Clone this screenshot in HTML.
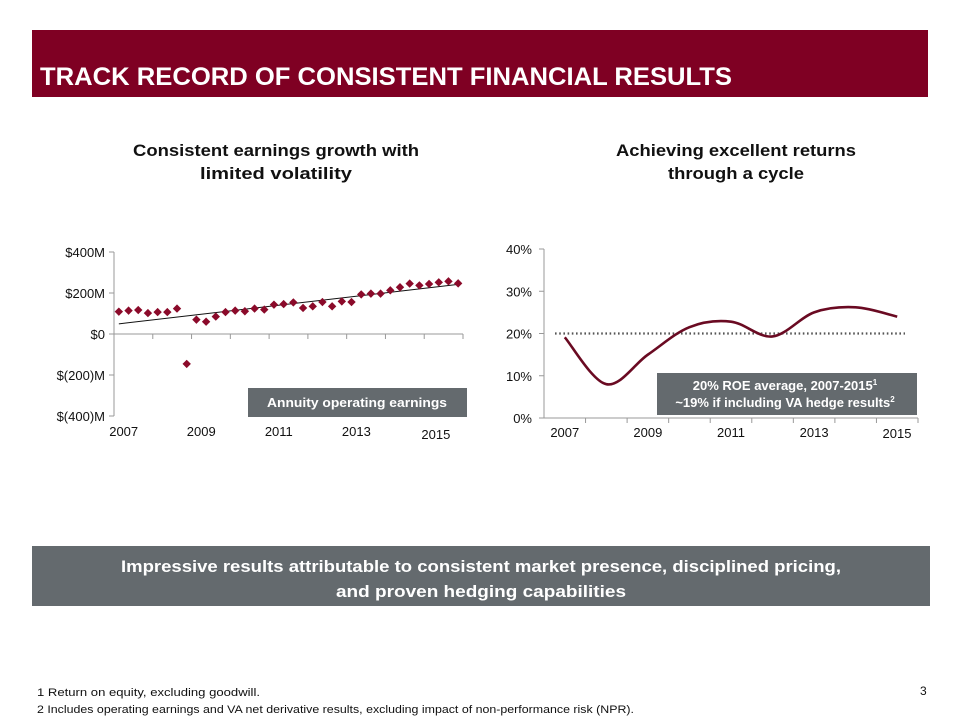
<!DOCTYPE html>
<html><head><meta charset="utf-8"><style>
body{margin:0;background:#fff;}
svg{display:block;font-family:"Liberation Sans",sans-serif;}
</style></head><body>
<svg id="s" width="960" height="721" viewBox="0 0 960 721" xmlns="http://www.w3.org/2000/svg">
<rect x="32" y="30" width="896" height="67" fill="#7f0023"/>
<text x="40" y="85" font-size="25" font-weight="bold" fill="#fff" textLength="692" lengthAdjust="spacingAndGlyphs">TRACK RECORD OF CONSISTENT FINANCIAL RESULTS</text>

<g font-size="17" font-weight="bold" fill="#111" text-anchor="middle">
<text x="276" y="156" textLength="286" lengthAdjust="spacingAndGlyphs">Consistent earnings growth with</text>
<text x="276" y="179" textLength="152" lengthAdjust="spacingAndGlyphs">limited volatility</text></g>
<g font-size="17" font-weight="bold" fill="#111" text-anchor="middle">
<text x="736" y="156" textLength="240" lengthAdjust="spacingAndGlyphs">Achieving excellent returns</text>
<text x="736" y="179" textLength="136" lengthAdjust="spacingAndGlyphs">through a cycle</text></g>

<g id="left"></g>
<g id="right"></g>

<rect x="32" y="546" width="898" height="60" fill="#646a6e"/>
<g font-size="17" font-weight="bold" fill="#fff" text-anchor="middle">
<text x="481" y="572" textLength="720" lengthAdjust="spacingAndGlyphs">Impressive results attributable to consistent market presence, disciplined pricing,</text>
<text x="481" y="597" textLength="290" lengthAdjust="spacingAndGlyphs">and proven hedging capabilities</text></g>

<g font-size="11" fill="#111">
<text x="37" y="696" textLength="223" lengthAdjust="spacingAndGlyphs">1  Return on equity, excluding goodwill.</text>
<text x="37" y="713" textLength="597" lengthAdjust="spacingAndGlyphs">2  Includes operating earnings and VA net derivative results, excluding impact of non-performance risk (NPR).</text>
<text x="920" y="695" font-size="12">3</text></g>
</svg>
<script>
const NS="http://www.w3.org/2000/svg";
const earnYears=["2007","2008","2009","2010","2011","2012","2013","2014","2015"];
const earnYearLabels=["2007","2009","2011","2013","2015"];
const earnTicks=[400,200,0,-200,-400];
const earnTickLabels=["$400M","$200M","$0","$(200)M","$(400)M"];
const quarterlyEarnings=[109,114,117,102,107,107,124,-146,70,60,85,107,114,111,124,119,143,146,154,127,135,156,135,159,156,193,197,197,213,228,246,237,244,252,257,247];
const roeYears=["2007","2008","2009","2010","2011","2012","2013","2014","2015"];
const roeValues=[19.1,8.0,15.0,21.5,22.8,19.3,25.0,26.2,24.0];
const roeTicks=[0,10,20,30,40];
const roeAverage=[20];

function el(p,t,a){const e=document.createElementNS(NS,t);for(const k in a)e.setAttribute(k,a[k]);p.appendChild(e);return e;}

// left chart
(function(){
const g=document.getElementById('left');
const x0=114,x1=463,nQ=quarterlyEarnings.length;
const y=v=>334-(v)*82/400;
const qx=i=>x0+(i+0.5)*(x1-x0)/nQ;
const bw=(x1-x0)/earnYears.length;
let a=el(g,'line',{x1:x0,y1:y(400),x2:x0,y2:y(-400),stroke:'#999','stroke-width':1});

a=el(g,'line',{x1:x0,y1:y(0),x2:x1,y2:y(0),stroke:'#999','stroke-width':1});

earnTicks.forEach((v,i)=>{
 const t=el(g,'line',{x1:x0-5,y1:y(v),x2:x0,y2:y(v),stroke:'#999'});
 
 const l=el(g,'text',{x:105,y:y(v)+5,'font-size':13,'text-anchor':'end',fill:'#111'});
 l.textContent=earnTickLabels[i];
 
});
for(let i=1;i<=earnYears.length;i++){
 const t=el(g,'line',{x1:x0+i*bw,y1:y(0),x2:x0+i*bw,y2:y(0)+5,stroke:'#999'});
 
}
earnYearLabels.forEach((s,k)=>{
 const idx=earnYears.indexOf(s);
 const cx=x0+idx*bw+bw*0.25+ (idx===8?bw*0.05:0);
 const l=el(g,'text',{x:cx,y:idx===8?439:436,'font-size':13,'text-anchor':'middle',fill:'#111'});
 l.textContent=s;
 
});
// trend via regression
let sx=0,sy=0,sxy=0,sxx=0;quarterlyEarnings.forEach((v,i)=>{sx+=i;sy+=v;sxy+=i*v;sxx+=i*i;});
const m=(nQ*sxy-sx*sy)/(nQ*sxx-sx*sx),b=(sy-m*sx)/nQ;
const tl=el(g,'line',{x1:qx(0),y1:y(b),x2:qx(nQ-1),y2:y(b+m*(nQ-1)),stroke:'#111','stroke-width':1});

quarterlyEarnings.forEach((v,i)=>{
 const cx=qx(i),cy=y(v),r=4.2;
 const p=el(g,'polygon',{points:`${cx},${cy-r} ${cx+r},${cy} ${cx},${cy+r} ${cx-r},${cy}`,fill:'#8b0a2a'});
 
});
const bx=el(g,'rect',{x:248,y:388,width:219,height:29,fill:'#646a6e'});

const bt=el(g,'text',{x:357,y:407,'font-size':13,'font-weight':'bold',fill:'#fff','text-anchor':'middle',textLength:180,lengthAdjust:'spacingAndGlyphs'});
bt.textContent='Annuity operating earnings';

})();

// right chart
(function(){
const g=document.getElementById('right');
const x0=544,x1=918;
const y=v=>418-v*169/40;
const bw=(x1-x0)/roeYears.length;
const cx=i=>x0+(i+0.5)*bw;
let a=el(g,'line',{x1:x0,y1:y(40),x2:x0,y2:y(0),stroke:'#999'});

a=el(g,'line',{x1:x0,y1:y(0),x2:x1,y2:y(0),stroke:'#999'});

roeTicks.forEach(v=>{
 const t=el(g,'line',{x1:x0-5,y1:y(v),x2:x0,y2:y(v),stroke:'#999'});
 
 const l=el(g,'text',{x:532,y:y(v)+5,'font-size':13,'text-anchor':'end',fill:'#111'});
 l.textContent=v+'%';
 
});
for(let i=1;i<=roeYears.length;i++){
 const t=el(g,'line',{x1:x0+i*bw,y1:y(0),x2:x0+i*bw,y2:y(0)+5,stroke:'#999'});
 
}
roeYears.forEach((s,i)=>{
 if(i%2)return;
 const l=el(g,'text',{x:i===8?897:cx(i),y:i===8?438:437,'font-size':13,'text-anchor':'middle',fill:'#111'});
 l.textContent=s;
 
});
const av=el(g,'line',{x1:555,y1:y(roeAverage[0]),x2:905,y2:y(roeAverage[0]),stroke:'#555','stroke-width':2.2,'stroke-dasharray':'1.6 2.6'});

const P=roeValues.map((v,i)=>[cx(i),y(v)]);
let d=`M${P[0][0]},${P[0][1]}`;
for(let i=0;i<P.length-1;i++){
 const p0=P[Math.max(0,i-1)],p1=P[i],p2=P[i+1],p3=P[Math.min(P.length-1,i+2)];
 const t=1/6;
 d+=` C${p1[0]+(p2[0]-p0[0])*t},${p1[1]+(p2[1]-p0[1])*t} ${p2[0]-(p3[0]-p1[0])*t},${p2[1]-(p3[1]-p1[1])*t} ${p2[0]},${p2[1]}`;
}
const ln=el(g,'path',{d:d,fill:'none',stroke:'#6a0a22','stroke-width':2.6});

const bx=el(g,'rect',{x:657,y:373,width:260,height:42,fill:'#646a6e'});

const t1=el(g,'text',{x:785,y:390,'font-size':13,'font-weight':'bold',fill:'#fff','text-anchor':'middle'});
t1.innerHTML='20% ROE average, 2007-2015<tspan font-size="8" dy="-5">1</tspan>';

const t2=el(g,'text',{x:785,y:407,'font-size':13,'font-weight':'bold',fill:'#fff','text-anchor':'middle'});
t2.innerHTML='~19% if including VA hedge results<tspan font-size="8" dy="-5">2</tspan>';

})();
</script>
</body></html>
